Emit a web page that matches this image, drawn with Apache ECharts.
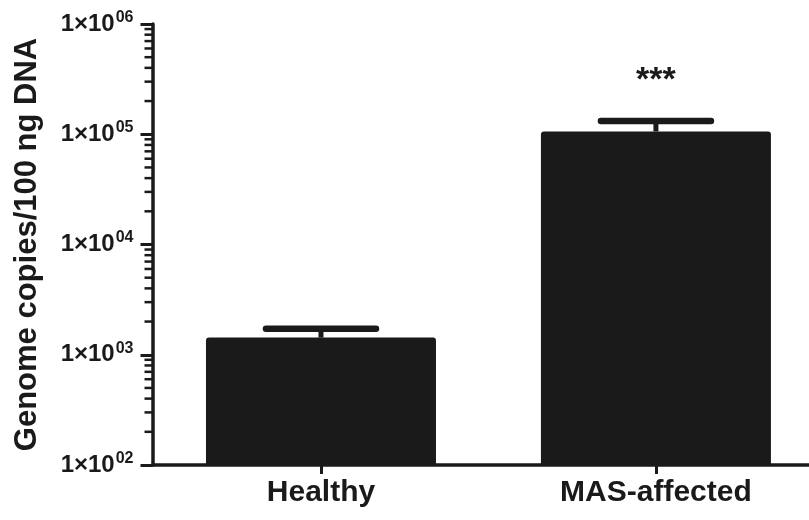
<!DOCTYPE html>
<html>
<head>
<meta charset="utf-8">
<script src="https://cdn.jsdelivr.net/npm/echarts@6/dist/echarts.min.js"></script>
<style>html,body{margin:0;padding:0;background:#fff;}#c{width:809px;height:520px;}</style>
</head>
<body>
<div id="c"></div>
<script>
const categories = ['Healthy', 'MAS-affected'];
const means = [1430, 106000];
const errorTops = [1720, 132000];
const significance = ['', '***'];
const yMin = 100;
const yMax = 1000000;
const minorTickValues = [
  200, 300, 400, 500, 600, 700, 800, 900,
  2000, 3000, 4000, 5000, 6000, 7000, 8000, 9000,
  20000, 30000, 40000, 50000, 60000, 70000, 80000, 90000,
  200000, 300000, 400000, 500000, 600000, 700000, 800000, 900000
];
const yTitle = 'Genome copies/100 ng DNA';

const INK = '#1a1a1a';
const FONT = '"Liberation Sans", Arial, sans-serif';
const catIdx = categories.map((c, i) => i);

const chart = echarts.init(document.getElementById('c'), null, {renderer: 'canvas'});

const option = {
  backgroundColor: '#fff',
  animation: false,
  grid: {left: 152.5, top: 24, bottom: 55, right: 0, containLabel: false},
  xAxis: {
    type: 'value',
    min: -0.503,
    max: 1.457,
    axisLine: {show: true, onZero: false, lineStyle: {color: INK, width: 3.5}},
    axisTick: {show: true, customValues: catIdx, length: 9, lineStyle: {color: INK, width: 3}},
    axisLabel: {show: true, customValues: catIdx, formatter: v => categories[Math.round(v)] || '',
      color: INK, fontFamily: FONT, fontWeight: 'bold', fontSize: 30, margin: 13},
    splitLine: {show: false}
  },
  yAxis: {
    type: 'log',
    logBase: 10,
    min: yMin,
    max: yMax,
    name: yTitle,
    nameLocation: 'middle',
    nameRotate: 90,
    nameGap: 110,
    nameTextStyle: {color: INK, fontFamily: FONT, fontWeight: 'bold', fontSize: 31},
    axisLine: {show: true, onZero: false, lineStyle: {color: INK, width: 3.5}},
    axisTick: {show: true, length: 12, lineStyle: {color: INK, width: 3}},
    splitLine: {show: false},
    axisLabel: {
      margin: 19,
      formatter: function (v) {
        const e = Math.round(Math.log10(v));
        return '{a|1×10}{s|' + (e < 10 ? '0' + e : e) + '}';
      },
      rich: {
        a: {color: INK, fontFamily: FONT, fontWeight: 'bold', fontSize: 24},
        s: {color: INK, fontFamily: FONT, fontWeight: 'bold', fontSize: 16, padding: [0, 0, 13, 1]}
      }
    }
  },
  series: [
    {
      type: 'bar',
      data: means.map((m, i) => [i, m]),
      barWidth: 230,
      itemStyle: {color: INK, borderRadius: [3, 3, 0, 0]},
      z: 2
    },
    {
      type: 'custom',
      z: 3,
      data: means.map((m, i) => [i, m, errorTops[i]]),
      renderItem: function (params, api) {
        const i = api.value(0);
        const p1 = api.coord([i, api.value(1)]);
        const p2 = api.coord([i, api.value(2)]);
        const children = [
          {type: 'line', shape: {x1: p1[0], y1: p1[1], x2: p2[0], y2: p2[1]}, style: {stroke: INK, lineWidth: 5}},
          {type: 'line', shape: {x1: p2[0] - 55, y1: p2[1], x2: p2[0] + 55, y2: p2[1]}, style: {stroke: INK, lineWidth: 6.5, lineCap: 'round'}}
        ];
        const sig = significance[params.dataIndex];
        if (sig) {
          children.push({
            type: 'text',
            style: {text: sig, x: p2[0], y: p2[1] - 40, align: 'center', verticalAlign: 'middle',
              fill: INK, font: 'bold 34px ' + FONT}
          });
        }
        return {type: 'group', children: children};
      }
    },
    {
      type: 'custom',
      z: 3,
      data: minorTickValues.map(v => [0, v]),
      renderItem: function (params, api) {
        const y = api.coord([0, api.value(1)])[1];
        const x0 = params.coordSys.x;
        return {type: 'line', shape: {x1: x0 - 8, y1: y, x2: x0, y2: y}, style: {stroke: INK, lineWidth: 2.5}};
      }
    }
  ]
};
chart.setOption(option);
</script>
</body>
</html>
